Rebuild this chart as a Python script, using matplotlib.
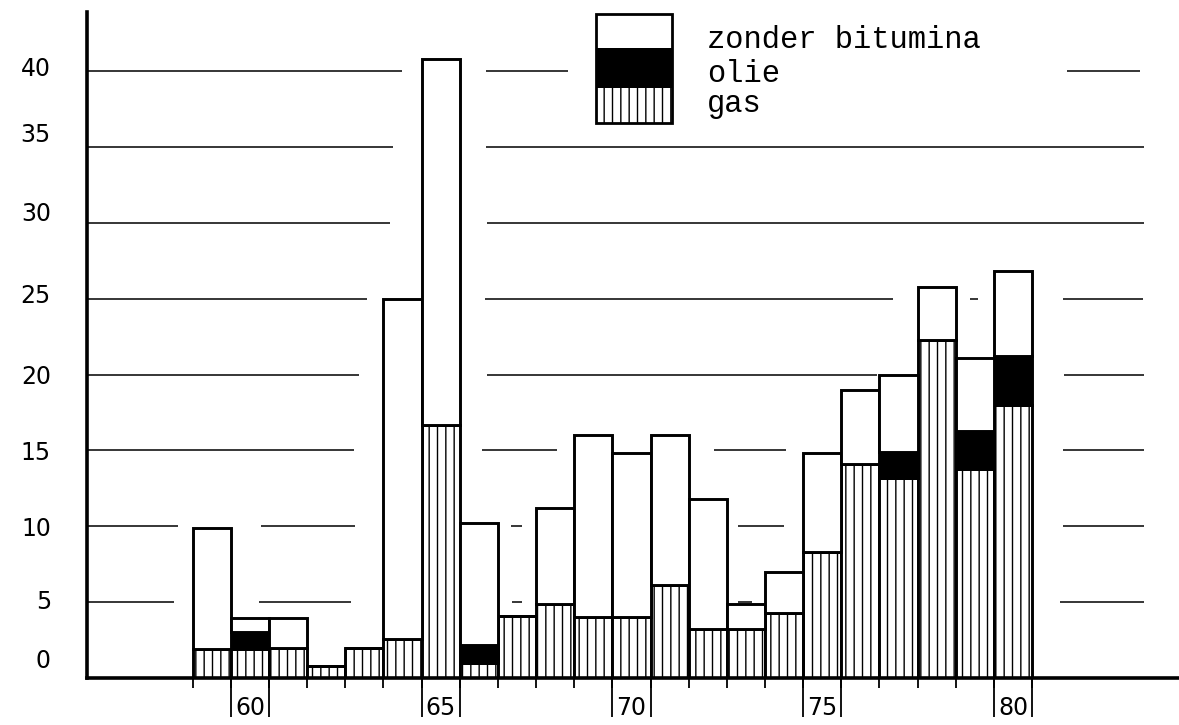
import numpy as np
import matplotlib
matplotlib.use("Agg")
import matplotlib.pyplot as plt
from matplotlib.patches import Rectangle
import matplotlib.transforms as mtransforms

# ---- data ----
years = list(range(59, 81))
gas = [1.9, 1.9, 2.0, 0.8, 2.0, 2.6, 16.7, 1.0, 4.1, 4.9, 4.0, 4.0, 6.1, 3.2, 3.2, 4.3,
       8.3, 14.1, 13.2, 22.3, 13.8, 18.0]
olie = [0, 1.1, 0, 0, 0, 0, 0, 1.2, 0, 0, 0, 0, 0, 0, 0, 0,
        0, 0, 1.7, 0, 2.5, 3.2]
totaal = [9.9, 3.95, 3.95, 0.8, 2.0, 25.0, 40.8, 10.2, 4.1, 11.2, 16.0, 14.8, 16.0, 11.8,
          4.9, 7.0, 14.8, 19.0, 20.0, 25.8, 21.1, 26.8]
series_names = ["zonder bitumina", "olie", "gas"]
ytick_vals = [0, 5, 10, 15, 20, 25, 30, 35, 40]
xtick_labels = [60, 65, 70, 75, 80]

gas_a = np.array(gas)
olie_a = np.array(olie)
zonder_a = np.array(totaal) - gas_a - olie_a

plt.rcParams['hatch.linewidth'] = 1.0
plt.rcParams['font.family'] = ['DejaVu Sans']

W, H = 1179, 725
fig = plt.figure(figsize=(W / 100, H / 100), dpi=100)
ax = fig.add_axes([87 / W, 47 / H, 1092 / W, 666 / H])
ax.set_xlim(55.73, 84.35)
ax.set_ylim(0, 43.9)

for s in ['top', 'right']:
    ax.spines[s].set_visible(False)
ax.spines['left'].set_linewidth(2.6)
ax.spines['bottom'].set_linewidth(2.6)

# broken horizontal guide lines (decoration of the original drawing)
grid_segments = {
    40: [(55.73, 63.98), (66.19, 68.34), (81.42, 83.33)],
    35: [(55.73, 63.75), (66.19, 83.43)],
    30: [(55.73, 63.67), (66.21, 83.43)],
    25: [(55.73, 63.07), (66.16, 76.85), (78.87, 79.08), (81.31, 83.41)],
    20: [(55.73, 62.86), (66.21, 76.43), (81.34, 83.43)],
    15: [(55.73, 62.73), (66.08, 68.05), (72.16, 74.05), (81.31, 83.43)],
    10: [(55.73, 58.11), (60.29, 62.75), (66.84, 67.13), (72.79, 74.0), (81.31, 83.43)],
    5: [(55.73, 58.01), (60.24, 62.65), (66.87, 67.13), (72.79, 73.16), (81.23, 83.43)],
}
for yv, segs in grid_segments.items():
    for x0, x1 in segs:
        ax.hlines(yv, x0, x1, color='black', lw=1.1, zorder=1)

# stacked bars
ax.bar(years, gas_a, width=1.0, color='white', edgecolor='black', hatch='||',
       linewidth=2.1, zorder=2)
ax.bar(years, olie_a, width=1.0, bottom=gas_a, color='black', edgecolor='black',
       linewidth=2.1, zorder=2)
ax.bar(years, zonder_a, width=1.0, bottom=gas_a + olie_a, color='white',
       edgecolor='black', linewidth=2.1, zorder=2)

# y ticks
ax.set_yticks(ytick_vals)
ax.set_yticklabels([str(v) for v in ytick_vals])
ax.tick_params(axis='y', length=0, pad=26, labelsize=17)
offsets = {0: 20, 5: 3, 25: 5, 30: 11, 35: 15, 40: 5}
for lab, v in zip(ax.get_yticklabels(), ytick_vals):
    if v in offsets:
        lab.set_transform(lab.get_transform() +
                          mtransforms.ScaledTranslation(0, offsets[v] / 100, fig.dpi_scale_trans))

# x ticks: labels centered on bars, short ticks at every bar boundary
ax.set_xticks(xtick_labels)
ax.set_xticklabels([str(v) for v in xtick_labels])
ax.tick_params(axis='x', which='major', length=0, pad=13, labelsize=17)
bounds = [y - 0.5 for y in years] + [years[-1] + 0.5]
ax.set_xticks(bounds, minor=True)
ax.tick_params(axis='x', which='minor', length=7, width=1.3, direction='out')

# long ticks around each labelled year
sec = ax.secondary_xaxis('bottom')
long_ticks = []
for v in xtick_labels:
    long_ticks += [v - 0.5, v + 0.5]
sec.set_xticks(long_ticks)
sec.tick_params(length=28, width=1.3, labelbottom=False)
sec.spines['bottom'].set_visible(False)

# legend drawn as stacked swatch
lx0, lx1 = 596, 672
sections = [(14, 48, 'white', ''), (48, 88, 'black', ''), (88, 123, 'white', '||')]
for top, bot, fc, hatch in sections:
    r = Rectangle((lx0 / W, 1 - bot / H), (lx1 - lx0) / W, (bot - top) / H,
                  transform=fig.transFigure, facecolor=fc, edgecolor='black',
                  hatch=hatch, linewidth=0)
    fig.add_artist(r)
frame = Rectangle((lx0 / W, 1 - 123 / H), (lx1 - lx0) / W, (123 - 14) / H,
                  transform=fig.transFigure, facecolor='none', edgecolor='black',
                  linewidth=2.0)
fig.add_artist(frame)
for name, base in zip(series_names, [48, 82, 112]):
    fig.text(707 / W, 1 - base / H, name, family='Liberation Mono', fontsize=22,
             va='baseline', ha='left')

fig.savefig('out.png', dpi=100)
